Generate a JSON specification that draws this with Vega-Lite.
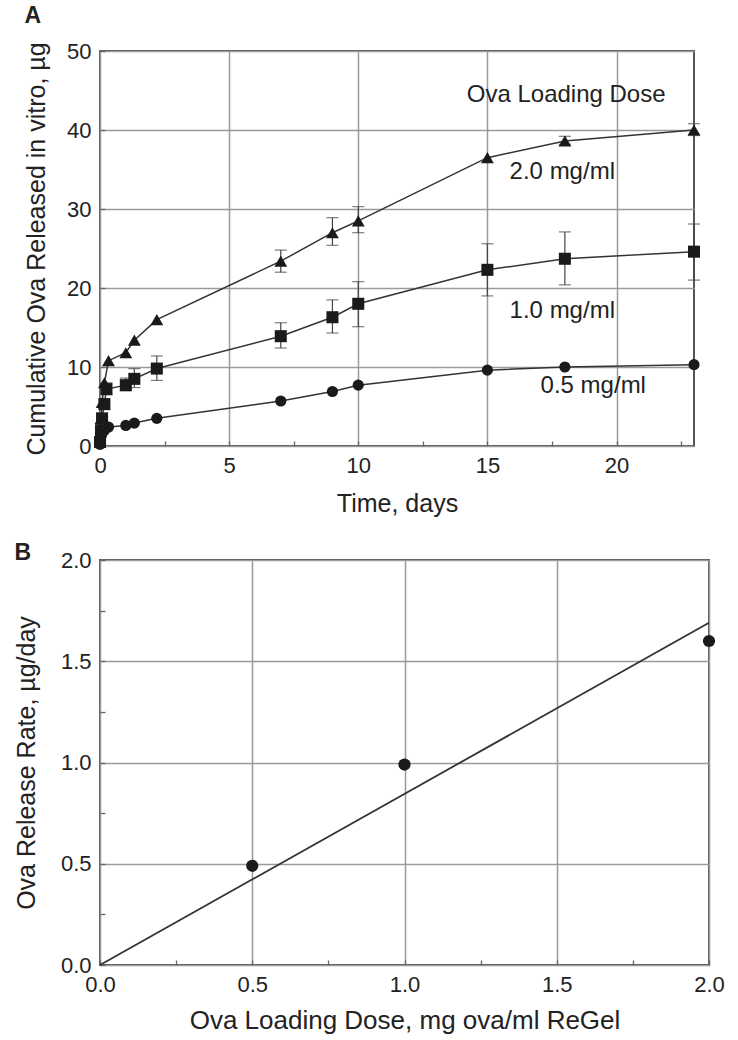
{
  "$schema": "https://vega.github.io/schema/vega-lite/v6.json",
  "background": "white",
  "padding": {"left": 13, "top": 4, "right": 10, "bottom": 0},
  "columns": 1,
  "align": "none",
  "spacing": 24,
  "config": {
    "font": "Liberation Sans",
    "view": {"stroke": "#555", "strokeWidth": 2},
    "axis": {
      "domain": false,
      "labelFont": "Liberation Sans",
      "labelFontSize": 22,
      "labelColor": "#222",
      "labelFlush": false,
      "titleFont": "Liberation Sans",
      "titleFontSize": 25,
      "titleFontWeight": "normal",
      "titleColor": "#222",
      "gridColor": "#9a9a9a",
      "gridWidth": 1.5,
      "tickColor": "#666",
      "tickSize": -5,
      "tickWidth": 1.3
    },
    "title": {"font": "Liberation Sans", "fontSize": 23, "fontWeight": "bold", "color": "#222", "anchor": "start"}
  },
  "datasets": {
    "release": [
      {"dose": "0.5", "t": 0, "v": 0.2},
      {"dose": "0.5", "t": 0.02, "v": 0.7},
      {"dose": "0.5", "t": 0.04, "v": 1.2},
      {"dose": "0.5", "t": 0.08, "v": 1.6},
      {"dose": "0.5", "t": 0.17, "v": 2.0},
      {"dose": "0.5", "t": 0.33, "v": 2.4},
      {"dose": "0.5", "t": 1, "v": 2.6},
      {"dose": "0.5", "t": 1.33, "v": 2.9},
      {"dose": "0.5", "t": 2.2, "v": 3.5},
      {"dose": "0.5", "t": 7, "v": 5.7},
      {"dose": "0.5", "t": 9, "v": 6.9},
      {"dose": "0.5", "t": 10, "v": 7.7},
      {"dose": "0.5", "t": 15, "v": 9.6},
      {"dose": "0.5", "t": 18, "v": 10.0},
      {"dose": "0.5", "t": 23, "v": 10.3},
      {"dose": "1.0", "t": 0, "v": 0.5},
      {"dose": "1.0", "t": 0.04, "v": 2.0},
      {"dose": "1.0", "t": 0.08, "v": 3.5},
      {"dose": "1.0", "t": 0.17, "v": 5.3},
      {"dose": "1.0", "t": 0.25, "v": 7.2},
      {"dose": "1.0", "t": 1, "v": 7.7},
      {"dose": "1.0", "t": 1.33, "v": 8.5},
      {"dose": "1.0", "t": 2.2, "v": 9.8},
      {"dose": "1.0", "t": 7, "v": 13.9},
      {"dose": "1.0", "t": 9, "v": 16.3},
      {"dose": "1.0", "t": 10, "v": 18.0},
      {"dose": "1.0", "t": 15, "v": 22.3},
      {"dose": "1.0", "t": 18, "v": 23.7},
      {"dose": "1.0", "t": 23, "v": 24.6},
      {"dose": "2.0", "t": 0, "v": 1.0},
      {"dose": "2.0", "t": 0.04, "v": 3.5},
      {"dose": "2.0", "t": 0.08, "v": 5.5},
      {"dose": "2.0", "t": 0.17, "v": 8.0},
      {"dose": "2.0", "t": 0.33, "v": 10.8},
      {"dose": "2.0", "t": 1, "v": 11.8},
      {"dose": "2.0", "t": 1.33, "v": 13.4},
      {"dose": "2.0", "t": 2.2, "v": 16.0},
      {"dose": "2.0", "t": 7, "v": 23.4},
      {"dose": "2.0", "t": 9, "v": 27.0},
      {"dose": "2.0", "t": 10, "v": 28.5},
      {"dose": "2.0", "t": 15, "v": 36.5},
      {"dose": "2.0", "t": 18, "v": 38.6},
      {"dose": "2.0", "t": 23, "v": 40.0}
    ],
    "errors": [
      {"dose": "1.0", "t": 0.25, "lo": 6.5, "hi": 8.0},
      {"dose": "1.0", "t": 1, "lo": 7.0, "hi": 8.6},
      {"dose": "1.0", "t": 1.33, "lo": 7.4, "hi": 9.8},
      {"dose": "1.0", "t": 2.2, "lo": 8.3, "hi": 11.4},
      {"dose": "1.0", "t": 7, "lo": 12.4, "hi": 15.6},
      {"dose": "1.0", "t": 9, "lo": 14.3, "hi": 18.5},
      {"dose": "1.0", "t": 10, "lo": 15.1, "hi": 20.8},
      {"dose": "1.0", "t": 15, "lo": 19.0, "hi": 25.6},
      {"dose": "1.0", "t": 18, "lo": 20.4, "hi": 27.1},
      {"dose": "1.0", "t": 23, "lo": 21.0, "hi": 28.1},
      {"dose": "2.0", "t": 7, "lo": 22.0, "hi": 24.8},
      {"dose": "2.0", "t": 9, "lo": 25.4, "hi": 28.9},
      {"dose": "2.0", "t": 10, "lo": 27.0, "hi": 30.3},
      {"dose": "2.0", "t": 18, "lo": 38.2, "hi": 39.2},
      {"dose": "2.0", "t": 23, "lo": 39.3, "hi": 40.8}
    ],
    "labels": [
      {"t": 18.05, "v": 44.4, "label": "Ova Loading Dose"},
      {"t": 17.9, "v": 34.7, "label": "2.0 mg/ml"},
      {"t": 17.9, "v": 17.1, "label": "1.0 mg/ml"},
      {"t": 19.1, "v": 7.6, "label": "0.5 mg/ml"}
    ],
    "rate": [
      {"dose": 0.5, "rate": 0.49},
      {"dose": 1.0, "rate": 0.99},
      {"dose": 2.0, "rate": 1.60}
    ],
    "fit": [
      {"dose": 0, "rate": 0},
      {"dose": 2.0, "rate": 1.69}
    ]
  },
  "concat": [
    {
      "width": 594,
      "height": 395,
      "title": {"text": "A", "offset": 12},
      "layer": [
        {
          "data": {"name": "release"},
          "mark": {"type": "line", "color": "#333", "strokeWidth": 1.5},
          "encoding": {
            "x": {
              "field": "t", "type": "quantitative",
              "scale": {"domain": [0, 23], "nice": false},
              "axis": {
                "title": "Time, days",
                "values": [0, 2.5, 5, 7.5, 10, 12.5, 15, 17.5, 20, 22.5],
                "labelExpr": "datum.value % 5 === 0 ? datum.label : ''",
                "gridOpacity": {"condition": {"test": "datum.value % 5 === 0", "value": 1}, "value": 0},
                "labelPadding": 14,
                "titlePadding": 15
              }
            },
            "y": {
              "field": "v", "type": "quantitative",
              "scale": {"domain": [0, 50], "nice": false},
              "axis": {
                "title": "Cumulative Ova Released in vitro, µg",
                "values": [0, 2.5, 5, 7.5, 10, 12.5, 15, 17.5, 20, 22.5, 25, 27.5, 30, 32.5, 35, 37.5, 40, 42.5, 45, 47.5, 50],
                "labelExpr": "datum.value % 10 === 0 ? datum.label : ''",
                "gridOpacity": {"condition": {"test": "datum.value % 10 === 0", "value": 1}, "value": 0},
                "labelPadding": 14,
                "titlePadding": 17
              }
            },
            "detail": {"field": "dose"},
            "order": {"field": "t", "type": "quantitative"}
          }
        },
        {
          "data": {"name": "errors"},
          "mark": {"type": "rule", "color": "#444", "strokeWidth": 1.2},
          "encoding": {
            "x": {"field": "t", "type": "quantitative"},
            "y": {"field": "lo", "type": "quantitative"},
            "y2": {"field": "hi"}
          }
        },
        {
          "data": {"name": "errors"},
          "mark": {"type": "tick", "orient": "horizontal", "color": "#444", "thickness": 1.2, "size": 12},
          "encoding": {
            "x": {"field": "t", "type": "quantitative"},
            "y": {"field": "lo", "type": "quantitative"}
          }
        },
        {
          "data": {"name": "errors"},
          "mark": {"type": "tick", "orient": "horizontal", "color": "#444", "thickness": 1.2, "size": 12},
          "encoding": {
            "x": {"field": "t", "type": "quantitative"},
            "y": {"field": "hi", "type": "quantitative"}
          }
        },
        {
          "data": {"name": "release"},
          "mark": {"type": "point", "filled": true, "color": "#1a1a1a", "opacity": 1},
          "encoding": {
            "x": {"field": "t", "type": "quantitative"},
            "y": {"field": "v", "type": "quantitative"},
            "shape": {"field": "dose", "type": "nominal", "scale": {"domain": ["0.5", "1.0", "2.0"], "range": ["circle", "square", "triangle-up"]}, "legend": null},
            "size": {"field": "dose", "type": "nominal", "scale": {"domain": ["0.5", "1.0", "2.0"], "range": [125, 165, 115]}, "legend": null}
          }
        },
        {
          "data": {"name": "labels"},
          "mark": {"type": "text", "font": "Liberation Sans", "fontSize": 24, "color": "#222", "align": "center", "baseline": "middle"},
          "encoding": {
            "x": {"field": "t", "type": "quantitative"},
            "y": {"field": "v", "type": "quantitative"},
            "text": {"field": "label"}
          }
        }
      ]
    },
    {
      "width": 609,
      "height": 405,
      "title": {"text": "B", "offset": -16},
      "layer": [
        {
          "data": {"name": "fit"},
          "mark": {"type": "line", "color": "#333", "strokeWidth": 1.8},
          "encoding": {
            "x": {
              "field": "dose", "type": "quantitative",
              "scale": {"domain": [0, 2], "nice": false},
              "axis": {
                "title": "Ova Loading Dose, mg ova/ml ReGel",
                "titleFontSize": 26,
                "values": [0, 0.25, 0.5, 0.75, 1, 1.25, 1.5, 1.75, 2],
                "labelExpr": "datum.value % 0.5 === 0 ? format(datum.value, '.1f') : ''",
                "gridOpacity": {"condition": {"test": "datum.value % 0.5 === 0", "value": 1}, "value": 0},
                "labelPadding": 14,
                "titlePadding": 12
              }
            },
            "y": {
              "field": "rate", "type": "quantitative",
              "scale": {"domain": [0, 2], "nice": false},
              "axis": {
                "title": "Ova Release Rate, µg/day",
                "values": [0, 0.25, 0.5, 0.75, 1, 1.25, 1.5, 1.75, 2],
                "labelExpr": "datum.value % 0.5 === 0 ? format(datum.value, '.1f') : ''",
                "gridOpacity": {"condition": {"test": "datum.value % 0.5 === 0", "value": 1}, "value": 0},
                "labelPadding": 14,
                "titlePadding": 21
              }
            }
          }
        },
        {
          "data": {"name": "rate"},
          "mark": {"type": "point", "filled": true, "color": "#1a1a1a", "opacity": 1, "shape": "circle", "size": 150},
          "encoding": {
            "x": {"field": "dose", "type": "quantitative"},
            "y": {"field": "rate", "type": "quantitative"}
          }
        }
      ]
    }
  ]
}
